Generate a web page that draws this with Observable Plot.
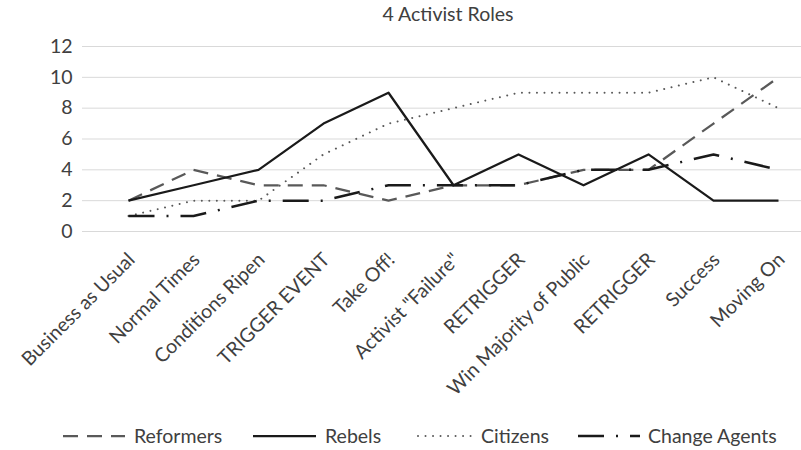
<!DOCTYPE html>
<html><head><meta charset="utf-8">
<script src="https://cdn.jsdelivr.net/npm/d3@7"></script>
<script src="https://cdn.jsdelivr.net/npm/@observablehq/plot@0.6"></script>
<style>
body{margin:0;background:#fff;font-family:Lato,sans-serif;color:#404040;}
#wrap{position:relative;width:801px;height:450px;overflow:hidden;background:#fff;}
#title{position:absolute;left:348px;top:2px;width:200px;text-align:center;font-size:19.5px;line-height:24px;}
#chart{position:absolute;left:0;top:30px;}
#legend{position:absolute;left:0;top:424px;}
</style>
</head><body>
<div id="wrap">
  <div id="title">4 Activist Roles</div>
  <div id="chart"></div>
  <svg id="legend" width="801" height="24"></svg>
</div>
<script>
const categories = ["Business as Usual","Normal Times","Conditions Ripen","TRIGGER EVENT","Take Off!","Activist \"Failure\"","RETRIGGER","Win Majority of Public","RETRIGGER","Success","Moving On"];
const reformers    = [2,4,3,3,2,3,3,4,4,7,10];
const rebels       = [2,3,4,7,9,3,5,3,5,2,2];
const citizens     = [1,2,2,5,7,8,9,9,9,10,8];
const changeAgents = [1,1,2,2,3,3,3,4,4,5,4];
const yTicks = [0,2,4,6,8,10,12];
const seriesNames = ["Reformers","Rebels","Citizens","Change Agents"];

const styles = {
  "Reformers":     {stroke:"#595959", strokeWidth:2.25, strokeDasharray:"15,9", strokeLinecap:"butt"},
  "Rebels":        {stroke:"#1a1a1a", strokeWidth:2.25, strokeDasharray:null, strokeLinecap:"butt"},
  "Citizens":      {stroke:"#595959", strokeWidth:2, strokeDasharray:"0.01,7.5", strokeLinecap:"round"},
  "Change Agents": {stroke:"#1a1a1a", strokeWidth:2.5, strokeDasharray:"26,12,2,12", strokeLinecap:"butt"}
};
const seriesValues = {"Reformers":reformers,"Rebels":rebels,"Citizens":citizens,"Change Agents":changeAgents};
const rows = name => seriesValues[name].map((v,i)=>({i, v, name}));
const catRows = categories.map((c,i)=>({i, c}));

const plot = Plot.plot({
  width: 801, height: 396,
  marginLeft: 82, marginRight: 0, marginTop: 16, marginBottom: 195,
  style: {fontFamily:"Lato, sans-serif", fontSize:"19.5px", color:"#404040", background:"transparent", overflow:"visible"},
  x: {type:"point", domain: d3.range(categories.length), padding: 0, insetLeft: 41, insetRight: 19, label: null, axis: null},
  y: {domain:[0,12], label:null},
  marks: [
    Plot.gridY(yTicks, {stroke:"#d9d9d9", strokeOpacity:1, strokeWidth:1}),
    Plot.axisY(yTicks, {tickSize:0, tickPadding:10, label:null, fill:"#404040"}),
    Plot.text(catRows, {x:"i", y:()=>0, text:"c", rotate:-45, textAnchor:"end", lineAnchor:"middle", dx:3, dy:25, fill:"#404040", fontSize:19.5}),
    ...seriesNames.map(n => Plot.line(rows(n), {x:"i", y:"v", ...styles[n], strokeLinejoin:"round"}))
  ]
});
document.getElementById("chart").appendChild(plot);

// legend
const leg = d3.select("#legend");
const legendItems = [
  {name:"Reformers", x0:63, x1:125, tx:134},
  {name:"Rebels", x0:253, x1:316, tx:325},
  {name:"Citizens", x0:418, x1:472, tx:481},
  {name:"Change Agents", x0:578, x1:640, tx:648}
];
legendItems.forEach(d=>{
  const s = styles[d.name];
  leg.append("line").attr("x1",d.x0).attr("x2",d.x1).attr("y1",12).attr("y2",12)
    .attr("stroke",s.stroke).attr("stroke-width",s.strokeWidth)
    .attr("stroke-dasharray",s.strokeDasharray).attr("stroke-linecap",s.strokeLinecap);
  leg.append("text").attr("x",d.tx).attr("y",12).attr("dy","0.35em")
    .attr("font-size",19.5).attr("font-family","Lato, sans-serif").attr("fill","#404040").text(d.name);
});
</script>
</body></html>
